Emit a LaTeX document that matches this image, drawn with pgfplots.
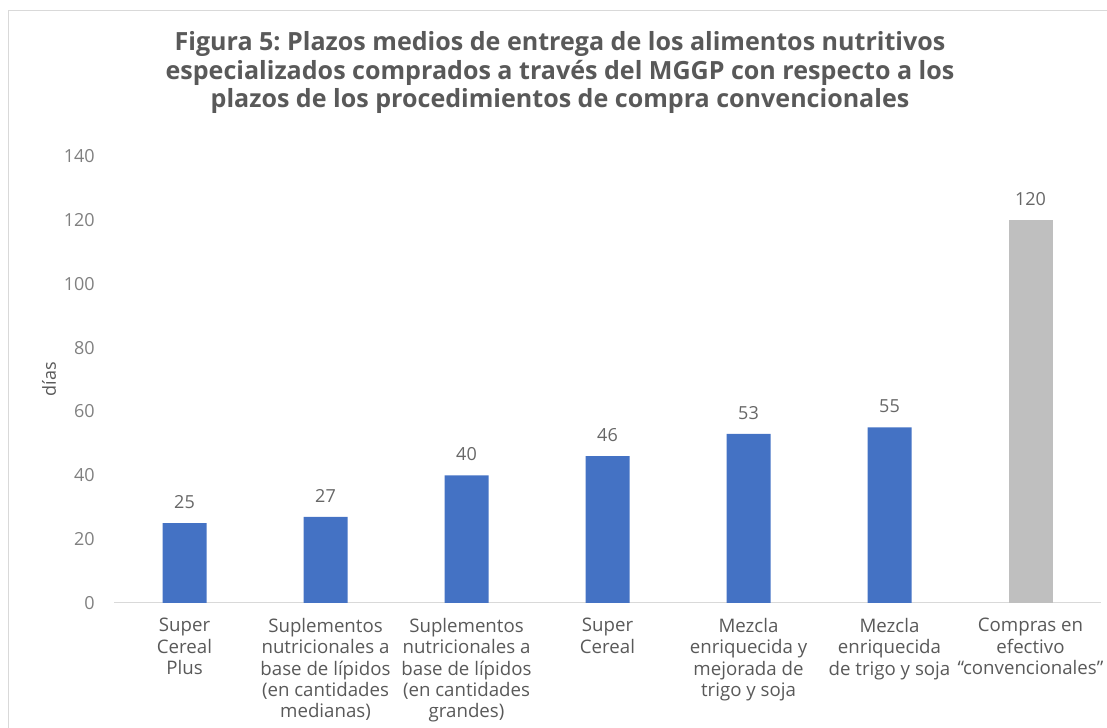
\documentclass[border=0pt]{standalone}
\usepackage{pgfplots}
\pgfplotsset{compat=1.18}
\usepackage{fontspec}
\setmainfont{Open Sans}
\frenchspacing
\definecolor{barblue}{HTML}{4472C4}
\definecolor{bargray}{HTML}{BFBFBF}
\definecolor{txt}{HTML}{595959}
\definecolor{ticktxt}{HTML}{808080}
\definecolor{axl}{HTML}{D9D9D9}
\begin{document}
\begin{tikzpicture}
\useasboundingbox (0,0) rectangle (830.25pt,546pt);
\draw[axl, line width=0.75pt] (6pt,0) -- (6pt,537.75pt) -- (830.25pt,537.75pt);
\node[align=center, text=txt, font=\fontsize{18.8}{21.5}\selectfont\bfseries] at (420pt,491.4pt)
 {Figura 5: Plazos medios de entrega de los alimentos nutritivos\\
  especializados comprados a través del MGGP con respecto a los\\
  plazos de los procedimientos de compra convencionales};
\begin{axis}[
  at={(85.5pt,93.75pt)}, anchor=south west,
  scale only axis, width=740.25pt, height=335.25pt,
  xmin=-0.5, xmax=6.5, ymin=0, ymax=140,
  ytick={0,20,...,140},
  xtick={0,...,6},
  xticklabels={{Super\\Cereal\\Plus},
    {Suplementos\\nutricionales a\\base de lípidos\\(en cantidades\\medianas)},
    {Suplementos\\nutricionales a\\base de lípidos\\(en cantidades\\grandes)},
    {Super\\Cereal},
    {Mezcla\\enriquecida y\\mejorada de\\trigo y soja},
    {Mezcla\\enriquecida\\de trigo y soja},
    {Compras en\\efectivo\\“convencionales”}},
  axis x line*=bottom, axis y line*=left,
  x axis line style={draw=axl, line width=0.75pt, -},
  y axis line style={draw=none},
  major tick length=0pt,
  tick style={draw=none},
  /pgf/number format/assume math mode=true,
  yticklabel style={font=\fontsize{13.5}{16}\selectfont, text=ticktxt, anchor=east, inner sep=0pt, xshift=-14.25pt},
  xticklabel style={font=\fontsize{14}{16}\selectfont, text=txt, anchor=north, inner sep=0pt, align=center, yshift=-11.25pt},
  ylabel={días},
  every axis y label/.style={at={(rel axis cs:0,0.5)}, anchor=center, xshift=-48.75pt, rotate=90, font=\fontsize{13.5}{16}\selectfont, text=txt},
  nodes near coords,
  every node near coord/.append style={font=\fontsize{13.5}{16}\selectfont, text=ticktxt!80!black, anchor=south, inner sep=0pt, yshift=10.5pt},
  clip=false,
]
\addplot[ybar, bar width=33pt, fill=barblue, draw=none] coordinates {(0,25) (1,27) (2,40) (3,46) (4,53) (5,55)};
\addplot[ybar, bar width=33pt, fill=bargray, draw=none] coordinates {(6,120)};
\end{axis}
\end{tikzpicture}
\end{document}
